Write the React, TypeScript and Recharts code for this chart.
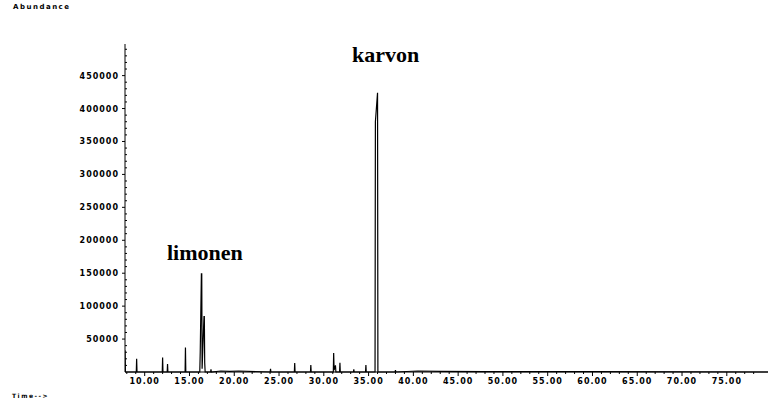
import { LineChart, Line, XAxis, YAxis } from "recharts";

// retention time (min) and abundance
const times = [
  7.8, 7.85, 9.06, 9.1, 9.14, 11.96, 12.0, 12.04, 12.51, 12.55, 12.59, 14.51, 14.55, 14.59,
  16.15, 16.2, 16.33, 16.37, 16.41, 16.62, 16.66, 16.7, 16.75, 17.36, 17.4, 17.44, 18.5, 19.5, 20.5,
  24.01, 24.05, 24.09, 26.71, 26.75, 26.79, 28.51, 28.55, 28.59, 31.06, 31.1, 31.15, 31.3,
  31.35, 31.76, 31.8, 31.84, 33.31, 33.35, 33.39, 34.66, 34.7, 34.74, 35.72, 35.76, 36.0, 36.04,
  37.96, 38.0, 38.04, 40.5, 43.0, 48.0, 60.0, 79.6,
];
const abundance = [
  33000, 0, 0, 20000, 0, 0, 22000, 0, 0, 12000, 0, 0, 37000, 0,
  0, 30000, 149000, 149000, 5000, 84000, 84000, 14000, 0, 0, 4000, 0, 1500, 1000, 1500,
  0, 5000, 0, 0, 13500, 0, 0, 10500, 0, 0, 29000, 3000, 10000,
  0, 0, 14000, 0, 0, 4000, 0, 0, 10500, 0, 0, 380000, 424000, 0,
  0, 3000, 0, 1500, 1000, 500, 500, 0,
];

const majorY = [50000, 100000, 150000, 200000, 250000, 300000, 350000, 400000, 450000];
const majorX = [10, 15, 20, 25, 30, 35, 40, 45, 50, 55, 60, 65, 70, 75];

const data = times.map((t, i) => ({ t, a: abundance[i] }));
const yTicks = Array.from({ length: 49 }, (_, i) => (i + 1) * 10000);
const xTicks = Array.from({ length: 71 }, (_, i) => 8 + i);

const tickFont = "DejaVu Sans, sans-serif";

function YTick({ y, payload }: any) {
  const v = payload.value;
  const ax = 125;
  if (majorY.includes(v)) {
    return (
      <g>
        <line x1={ax - 3} x2={ax} y1={y} y2={y} stroke="#000" />
        <text x={ax - 6} y={y + 3} textAnchor="end" fontSize={8} fontWeight="bold"
          fontFamily={tickFont} letterSpacing={1} fill="#000">{v}</text>
      </g>
    );
  }
  return <line x1={ax} x2={ax + 2} y1={y} y2={y} stroke="#000" />;
}

function XTick({ x, payload }: any) {
  const v = payload.value;
  const top = 372;
  if (majorX.includes(v)) {
    return (
      <g>
        <line x1={x} x2={x} y1={top} y2={top + 4} stroke="#000" />
        <text x={x} y={top + 12} textAnchor="middle" fontSize={8} fontWeight="bold"
          fontFamily={tickFont} letterSpacing={1} fill="#000">{v.toFixed(2)}</text>
      </g>
    );
  }
  return <line x1={x} x2={x} y1={top} y2={top + 2} stroke="#000" />;
}

const small = {
  position: "absolute" as const,
  fontFamily: tickFont,
  fontSize: 7,
  fontWeight: "bold" as const,
  letterSpacing: 1.5,
  color: "#000",
  lineHeight: 1,
};
const peakLabel = {
  position: "absolute" as const,
  fontFamily: "Liberation Serif, serif",
  fontSize: 22,
  fontWeight: "bold" as const,
  color: "#000",
  lineHeight: 1,
};

export default function App() {
  return (
    <div style={{ position: "relative", width: 768, height: 411, background: "#fff" }}>
      <style>{"body{margin:0}"}</style>
      <LineChart width={768} height={411} data={data}
        margin={{ top: 44, right: 0, bottom: 19, left: 0 }}>
        <XAxis dataKey="t" type="number" domain={[7.8, 79.6]} ticks={xTicks}
          allowDataOverflow interval={0} height={20} stroke="#000"
          tickLine={false} tick={<XTick />} />
        <YAxis type="number" domain={[0, 498000]} ticks={yTicks} interval={0}
          width={125} stroke="#000" tickLine={false} tick={<YTick />} />
        <Line dataKey="a" type="linear" stroke="#000" strokeWidth={1.2}
          dot={false} isAnimationActive={false} />
      </LineChart>
      <div style={{ ...small, left: 13, top: 4 }}>Abundance</div>
      <div style={{ ...small, left: 12, top: 393, fontSize: 6 }}>Time--&gt;</div>
      <div style={{ ...peakLabel, left: 352, top: 44 }}>karvon</div>
      <div style={{ ...peakLabel, left: 167, top: 242 }}>limonen</div>
    </div>
  );
}
